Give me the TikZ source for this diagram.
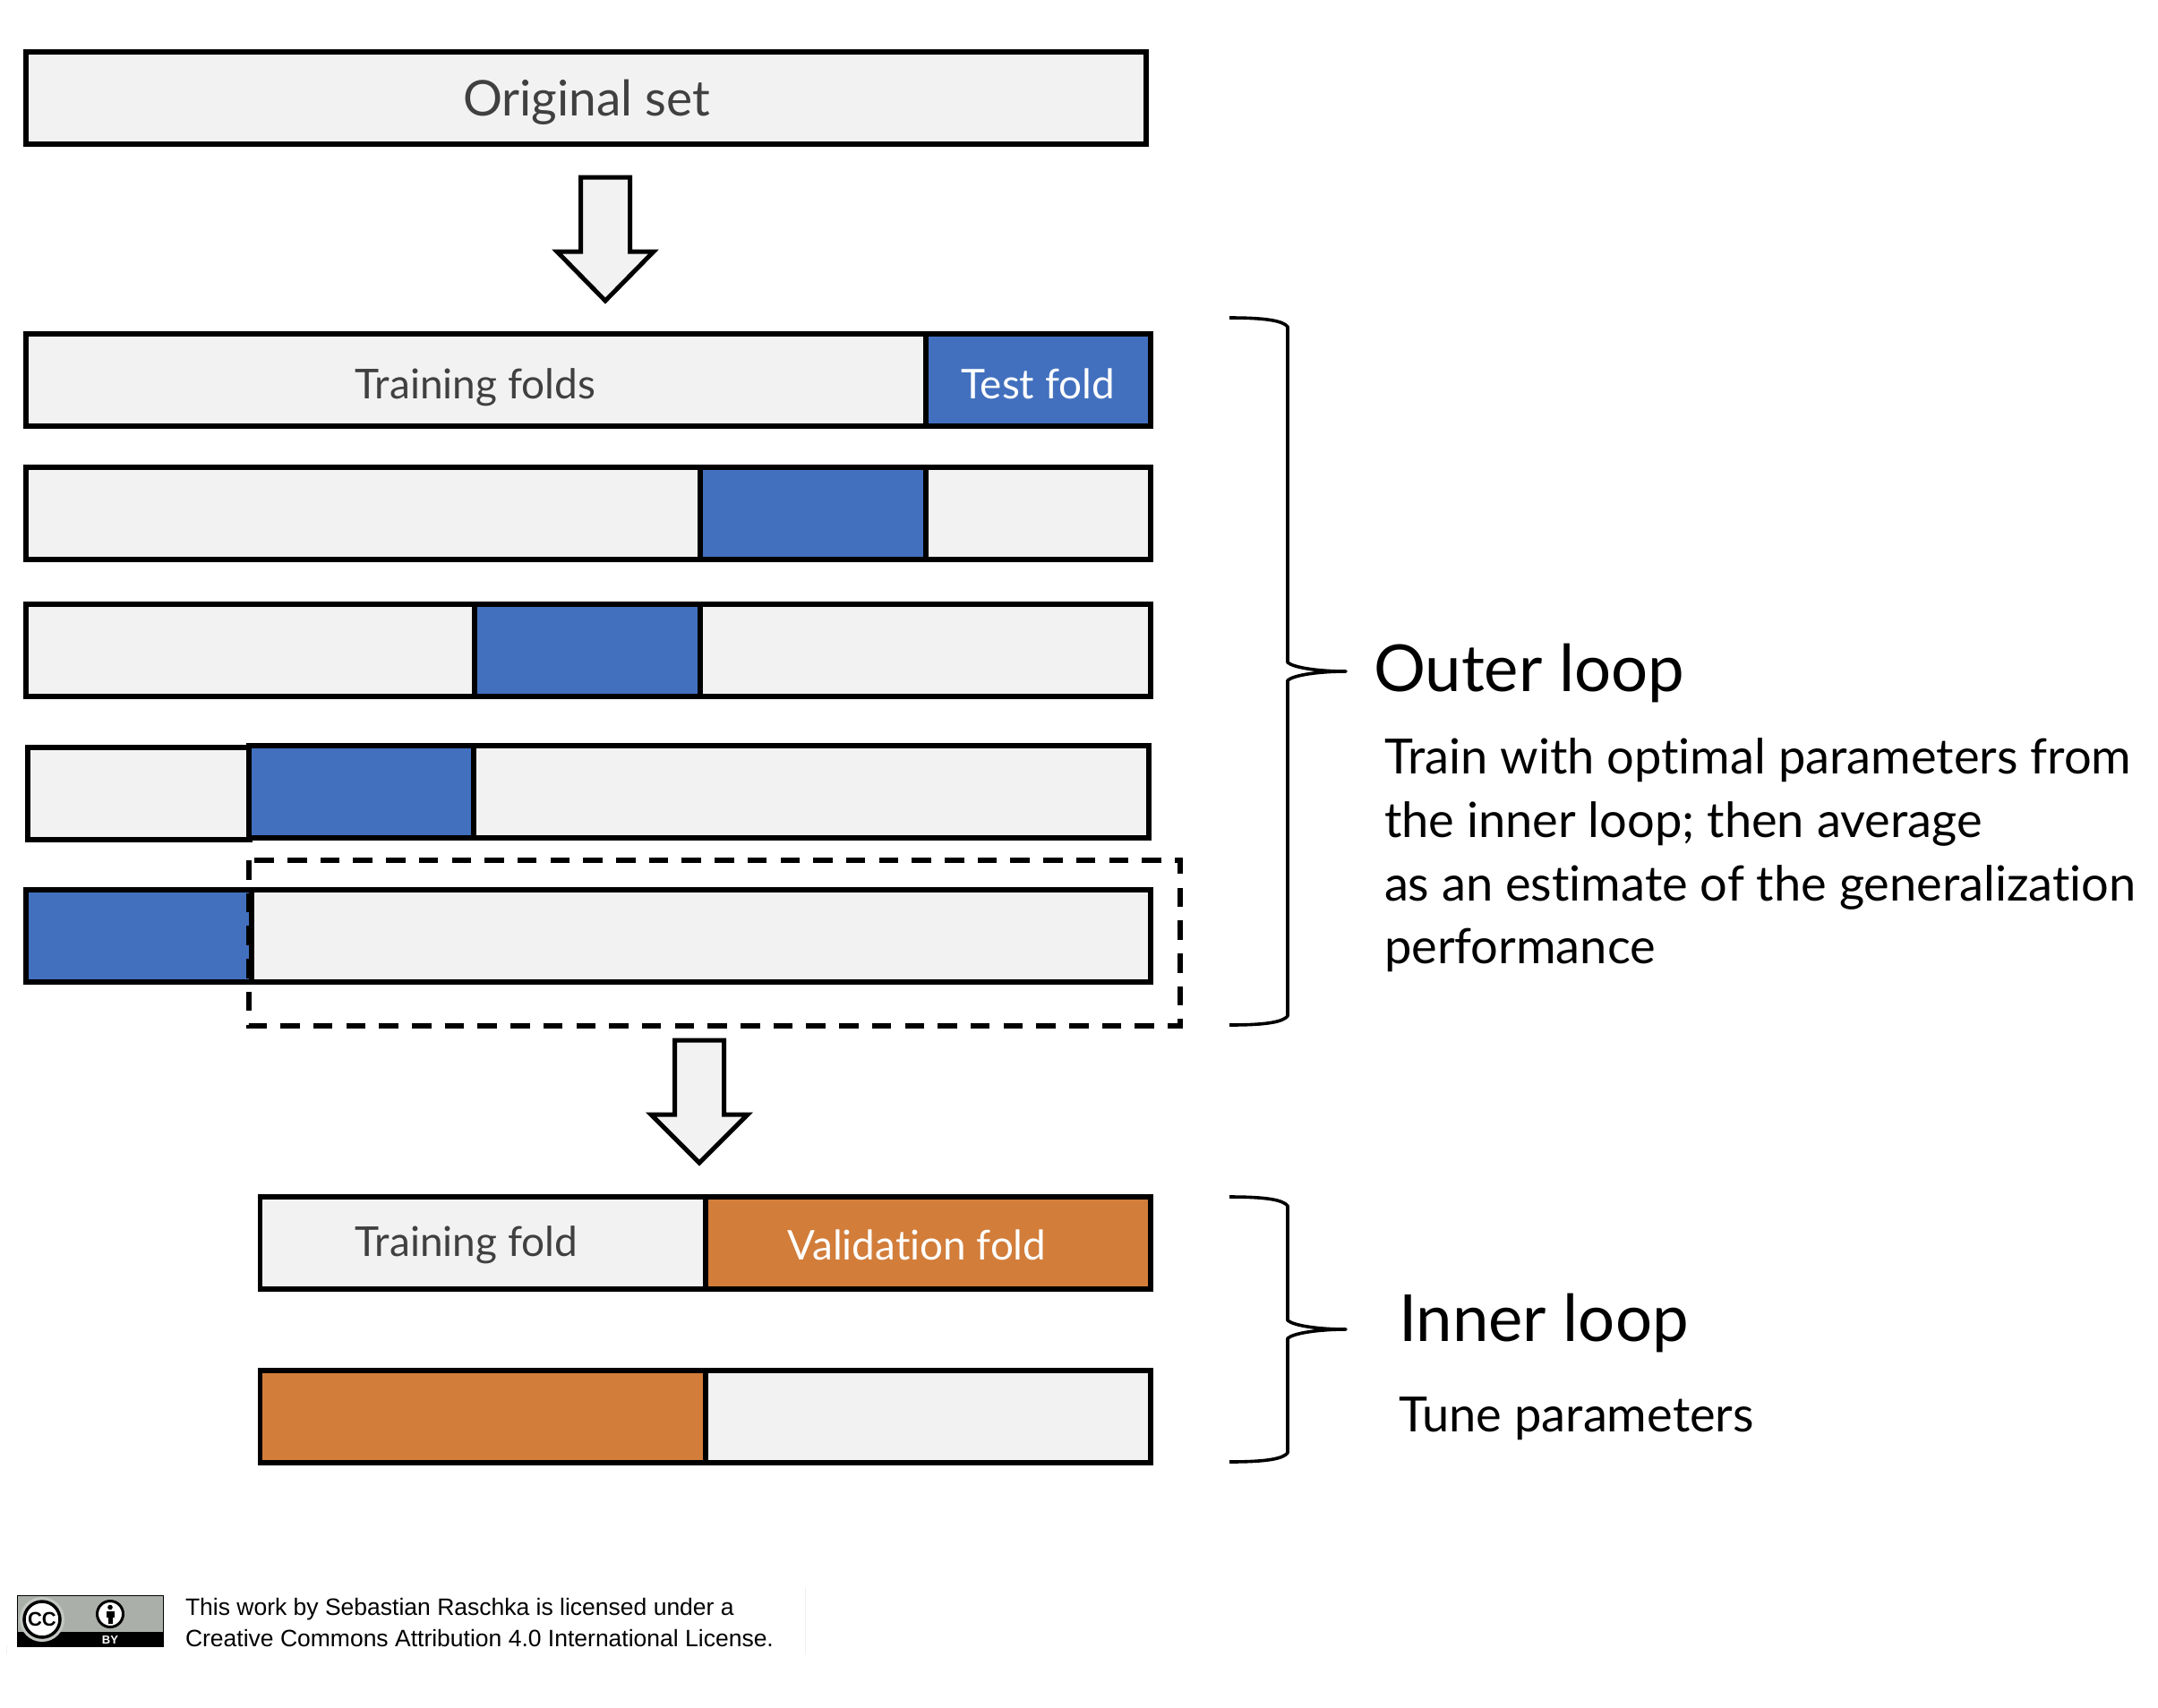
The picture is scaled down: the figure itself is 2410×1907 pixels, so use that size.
\documentclass[tikz,border=0pt]{standalone}
\usepackage{fontspec}
\setmainfont{Lato}[Ligatures=CommonOff]
\newfontfamily\licfont{Liberation Sans}
\definecolor{lightfill}{HTML}{F2F2F2}
\definecolor{bluefold}{HTML}{4270BE}
\definecolor{orangefold}{HTML}{D27D3A}
\definecolor{greytext}{HTML}{404040}
\definecolor{badgegrey}{HTML}{AAB0A9}
\newcommand{\barbox}[6]{%
  \pgfmathsetlengthmacro{\bw}{(#4-#2)*1pt}%
  \pgfmathsetlengthmacro{\bh}{(#5-#3)*1pt}%
  \node[#6, minimum width=\bw, minimum height=\bh] (#1) at ({(#2+#4)/2},{(#3+#5)/2}) {};}
\newcommand{\blockarrow}[4]{% centre x, top y, neck y, tip y
  \draw[flow] ({#1-27.5},#2) -- ({#1+27.5},#2) -- ({#1+27.5},#3) -- ({#1+54},#3) -- (#1,#4) -- ({#1-54},#3) -- ({#1-27.5},#3) -- cycle;}
\newcommand{\sidebrace}[4]{% x left, top y, mid y, bottom y
  \draw[bracel] (#1,#2) .. controls ({#1+45},#2) and ({#1+60},{#2+4}) .. ({#1+65},{#2+10})
    -- ({#1+65},{#3-10}) .. controls ({#1+72},{#3-4}) and ({#1+100},#3) .. ({#1+130},#3)
    .. controls ({#1+100},#3) and ({#1+72},{#3+4}) .. ({#1+65},{#3+10})
    -- ({#1+65},{#4-10}) .. controls ({#1+60},{#4-4}) and ({#1+45},#4) .. (#1,#4);}
\tikzset{
  x=1pt,y=-1pt,
  every node/.style={inner sep=0pt,outer sep=0pt},
  lightbar/.style={rectangle,draw=black,fill=lightfill,line width=5.5pt},
  bluebar/.style={rectangle,draw=black,fill=bluefold,line width=5.5pt},
  orangebar/.style={rectangle,draw=black,fill=orangefold,line width=5.5pt},
  flow/.style={draw=black,fill=lightfill,line width=5pt,miter limit=10},
  dashbox/.style={draw=black,line width=5.5pt,dash pattern=on 21.5pt off 15.2pt},
  bracel/.style={draw=black,line width=3.6pt,line join=round},
  barlabel/.style={anchor=base,text=greytext,font=\fontsize{55}{55}\selectfont},
  whitelabel/.style={anchor=base,text=white,font=\fontsize{45.8}{46}\selectfont},
  greylabel/.style={anchor=base,text=greytext,font=\fontsize{46}{46}\selectfont},
  headline/.style={anchor=base west,text=black,font=\fontsize{72.5}{73}\selectfont},
  bodyline/.style={anchor=base west,text=black,font=\fontsize{54.2}{54}\selectfont},
  licline/.style={anchor=base west,text=black,font=\licfont\fontsize{26.5}{26.5}\selectfont},
}
\begin{document}
\begin{tikzpicture}
\useasboundingbox (0,0) rectangle (2410,1907);
\fill[white] (0,0) rectangle (2410,1907);
% original set
\barbox{orig}{29}{58}{1280}{161}{lightbar}
\node[barlabel] (origt) at (655,129) {Original set};
\blockarrow{676}{198}{281}{336}
% outer folds
\barbox{r1a}{29}{373}{1034}{476}{lightbar}
\barbox{r1b}{1034}{373}{1285}{476}{bluebar}
\node[greylabel] (r1at) at (531,445) {Training folds};
\node[whitelabel] (r1bt) at (1159,445) {Test fold};
\barbox{r2a}{29}{522}{1285}{625}{lightbar}
\barbox{r2b}{782}{522}{1034}{625}{bluebar}
\barbox{r3a}{29}{675}{1285}{778}{lightbar}
\barbox{r3b}{530}{675}{782}{778}{bluebar}
\barbox{r4a}{31}{835}{279}{938}{lightbar}
\barbox{r4c}{278}{833}{1283}{936}{lightbar}
\barbox{r4b}{278}{833}{529}{936}{bluebar}
\barbox{r5b}{29}{994}{281}{1097}{bluebar}
\barbox{r5a}{281}{994}{1285}{1097}{lightbar}
\draw[dashbox] (278,961) rectangle (1318,1146);
\blockarrow{781}{1162}{1245}{1299}
% inner folds
\barbox{i1a}{290.5}{1337}{788}{1440}{lightbar}
\barbox{i1b}{788}{1337}{1285}{1440}{orangebar}
\node[greylabel] (i1at) at (521,1403) {Training fold};
\node[whitelabel] (i1bt) at (1024,1407) {Validation fold};
\barbox{i2b}{290.5}{1531}{788}{1634}{orangebar}
\barbox{i2a}{788}{1531}{1285}{1634}{lightbar}
% braces
\sidebrace{1373}{355}{750}{1145}
\sidebrace{1373}{1337}{1485}{1633}
% right texts
\node[headline] (outer) at (1534,772) {Outer loop};
\node[bodyline] (b1) at (1546,864) {Train with optimal parameters from};
\node[bodyline] (b2) at (1546,935) {the inner loop; then average};
\node[bodyline] (b3) at (1546,1006) {as an estimate of the generalization};
\node[bodyline] (b4) at (1546,1076) {performance};
\node[headline] (inner) at (1562,1498) {Inner loop};
\node[bodyline] (tune) at (1562,1599) {Tune parameters};
% licence badge
\fill[badgegrey] (19,1782) rectangle (182,1839.5);
\fill[black] (19,1823) rectangle (182,1839.5);
\draw[black,line width=1pt] (19,1782) rectangle (182,1839.5);
\begin{scope}
\clip (19,1782) rectangle (182,1839.5);
\fill[badgegrey!70!white] (47,1809) circle (25);
\end{scope}
\draw[black,line width=3.5pt,fill=white] (47,1809) circle (20);
\node[font=\licfont\bfseries\fontsize{22}{22}\selectfont] (cc) at (47,1809) {CC};
\draw[black,line width=3pt,fill=white] (123,1803) circle (14.5);
\fill[black] (123,1795.5) circle (2.8);
\fill[black] (118.5,1799.5) rectangle (127.5,1806.5);
\fill[black] (120.5,1806) rectangle (125.5,1814);
\node[font=\licfont\bfseries\fontsize{13}{13}\selectfont,text=white] (by) at (123,1832) {BY};
\node[licline] (l1) at (207,1804) {This work by Sebastian Raschka is licensed under a};
\node[licline] (l2) at (207,1839) {Creative Commons Attribution 4.0 International License.};
\draw[black!6,line width=1pt] (899,1773) -- (899,1848);
\draw[black!6,line width=1pt] (7,1838) -- (7,1848);
\end{tikzpicture}
\end{document}
